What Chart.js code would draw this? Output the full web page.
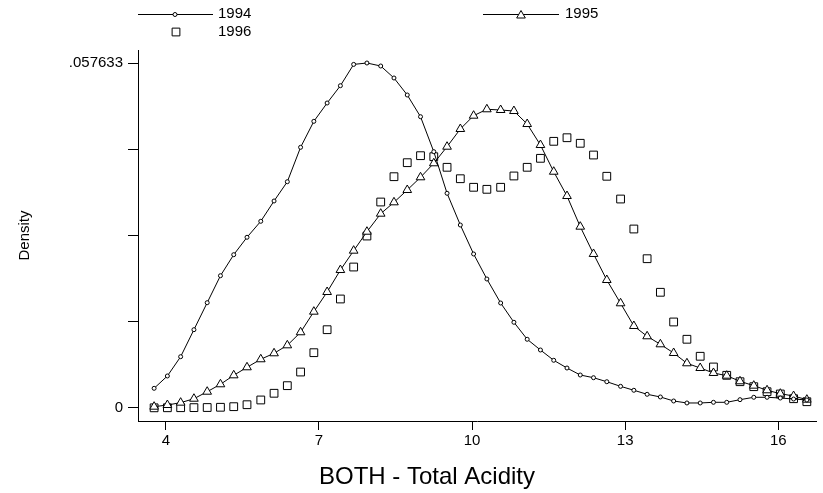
<!DOCTYPE html>
<html>
<head>
<meta charset="utf-8">
<script src="https://cdn.jsdelivr.net/npm/chart.js@4.4.0/dist/chart.umd.min.js"></script>
<style>
  html, body { margin: 0; padding: 0; background: #fff; }
  #wrap { width: 823px; height: 493px; }
</style>
</head>
<body>
<div id="wrap"><canvas id="densityChart" width="823" height="493"></canvas></div>
<script>
// Kernel density estimates of total acidity, one series per year
const acidity = [3.77, 4.03, 4.29, 4.55, 4.81, 5.07, 5.33, 5.59, 5.86, 6.12,
	6.38, 6.64, 6.90, 7.16, 7.42, 7.68, 7.94, 8.21, 8.47, 8.73,
	8.99, 9.25, 9.51, 9.77, 10.03, 10.29, 10.56, 10.82, 11.08, 11.34,
	11.60, 11.86, 12.12, 12.38, 12.64, 12.91, 13.17, 13.43, 13.69, 13.95,
	14.21, 14.47, 14.73, 14.99, 15.25, 15.52, 15.78, 16.04, 16.30, 16.56];

const dens1994 = [0.00329, 0.00535, 0.00857, 0.01308, 0.01759, 0.02210, 0.02561, 0.02852, 0.03119, 0.03458,
	0.03780, 0.04355, 0.04789, 0.05095, 0.05384, 0.05740, 0.057633, 0.05713, 0.05513, 0.05229,
	0.04866, 0.04282, 0.03587, 0.03057, 0.02573, 0.02155, 0.01754, 0.01432, 0.01148, 0.00969,
	0.00797, 0.00668, 0.00551, 0.00506, 0.00439, 0.00362, 0.00296, 0.00229, 0.00184, 0.00117,
	0.00084, 0.00084, 0.00095, 0.00095, 0.00139, 0.00179, 0.00179, 0.00167, 0.00150, 0.00134];

const dens1995 = [0.00022, 0.00050, 0.00089, 0.00155, 0.00272, 0.00396, 0.00546, 0.00680, 0.00814, 0.00914,
	0.01047, 0.01265, 0.01609, 0.01938, 0.02305, 0.02628, 0.02945, 0.03246, 0.03436, 0.03642,
	0.03854, 0.04088, 0.04365, 0.04661, 0.04883, 0.04990, 0.04978, 0.04961, 0.04744, 0.04393,
	0.03947, 0.03541, 0.03029, 0.02573, 0.02138, 0.01749, 0.01370, 0.01198, 0.01064, 0.00919,
	0.00747, 0.00668, 0.00585, 0.00540, 0.00446, 0.00373, 0.00296, 0.00239, 0.00200, 0.00139];

const dens1996 = [0.00003, 0.00004, 0.00005, 0.00006, 0.00008, 0.00012, 0.00022, 0.00055, 0.00134, 0.00246,
	0.00373, 0.00601, 0.00924, 0.01308, 0.01821, 0.02355, 0.02873, 0.03441, 0.03864, 0.04098,
	0.04215, 0.04198, 0.04021, 0.03830, 0.03687, 0.03653, 0.03687, 0.03876, 0.04021, 0.04171,
	0.04455, 0.04515, 0.04422, 0.04226, 0.03871, 0.03491, 0.02990, 0.02494, 0.01933, 0.01437,
	0.01148, 0.00864, 0.00685, 0.00546, 0.00439, 0.00356, 0.00272, 0.00234, 0.00155, 0.00105];

// Axis ticks and their labels
const xTicks = [4, 7, 10, 13, 16];
const yTicks = [0, 0.01440825, 0.0288165, 0.04322475, 0.057633];
const yTickLabels = ['0', '', '', '', '.057633'];

const FONT = "'Liberation Sans', Arial, Helvetica, sans-serif";

function toPoints(ys) {
	return ys.map(function(y, i) { return { x: acidity[i], y: y }; });
}

// Legend and x axis title, drawn by hand to keep the original layout
const extrasPlugin = {
	id: 'extras',
	afterDraw: function(chart) {
		const ctx = chart.ctx;
		const h = Chart.helpers;
		ctx.save();
		ctx.strokeStyle = '#000';
		ctx.fillStyle = '#000';
		ctx.lineWidth = 1;

		// row 1 left: 1994
		ctx.beginPath();
		ctx.moveTo(138, 14.5);
		ctx.lineTo(213, 14.5);
		ctx.stroke();
		ctx.fillStyle = '#fff';
		h.drawPoint(ctx, { pointStyle: 'circle', radius: 2, borderWidth: 1 }, 175, 14.5);
		// row 1 right: 1995
		ctx.beginPath();
		ctx.moveTo(483, 14.5);
		ctx.lineTo(559, 14.5);
		ctx.stroke();
		h.drawPoint(ctx, { pointStyle: 'triangle', radius: 5, borderWidth: 1 }, 521, 15.5);
		// row 2 left: 1996
		h.drawPoint(ctx, { pointStyle: 'rect', radius: 5.5, borderWidth: 1 }, 176, 32);

		ctx.fillStyle = '#000';
		ctx.font = '15px ' + FONT;
		ctx.textBaseline = 'middle';
		ctx.textAlign = 'left';
		ctx.fillText('1994', 218, 14);
		ctx.fillText('1995', 565, 14);
		ctx.fillText('1996', 218, 32);

		// x axis title
		ctx.font = '24px ' + FONT;
		ctx.textAlign = 'center';
		ctx.textBaseline = 'alphabetic';
		ctx.fillText('BOTH - Total Acidity', 427, 484);
		ctx.restore();
	}
};

const commonSet = {
	borderColor: '#000',
	borderWidth: 1,
	pointBorderColor: '#000',
	pointBackgroundColor: '#fff',
	pointBorderWidth: 1,
	tension: 0,
	clip: false
};

const densityChart = new Chart(document.getElementById('densityChart'), {
	type: 'line',
	data: {
		datasets: [
			Object.assign({}, commonSet, {
				label: '1994',
				data: toPoints(dens1994),
				pointStyle: 'circle',
				pointRadius: 2
			}),
			Object.assign({}, commonSet, {
				label: '1995',
				data: toPoints(dens1995),
				pointStyle: 'triangle',
				pointRadius: 5
			}),
			Object.assign({}, commonSet, {
				label: '1996',
				data: toPoints(dens1996),
				pointStyle: 'rect',
				pointRadius: 5.5,
				showLine: false
			})
		]
	},
	options: {
		responsive: false,
		animation: false,
		events: [],
		layout: { padding: { top: 50, right: 3, left: 0, bottom: 0 } },
		plugins: {
			legend: { display: false },
			tooltip: { enabled: false }
		},
		scales: {
			x: {
				type: 'linear',
				min: 3.4542,
				max: 16.749,
				afterFit: function(scale) { scale.height = 72; },
				afterBuildTicks: function(scale) {
					scale.ticks = xTicks.map(function(v) { return { value: v }; });
				},
				grid: { drawOnChartArea: false, drawTicks: true, tickLength: 9, color: '#000' },
				border: { display: true, color: '#000', width: 1 },
				ticks: {
					padding: 2,
					color: '#000',
					maxRotation: 0,
					font: { family: FONT, size: 15 },
					callback: function(v) { return String(v); }
				}
			},
			y: {
				type: 'linear',
				min: -0.002172,
				max: 0.059805,
				afterFit: function(scale) { scale.width = 138; },
				afterBuildTicks: function(scale) {
					scale.ticks = yTicks.map(function(v) { return { value: v }; });
				},
				grid: { drawOnChartArea: false, drawTicks: true, tickLength: 10, color: '#000' },
				border: { display: true, color: '#000', width: 1 },
				ticks: {
					padding: 5,
					color: '#000',
					font: { family: FONT, size: 15 },
					callback: function(v, i) { return yTickLabels[i]; }
				},
				title: {
					display: true,
					text: 'Density',
					color: '#000',
					font: { family: FONT, size: 15 },
					padding: { top: 16, bottom: 0 }
				}
			}
		}
	},
	plugins: [extrasPlugin]
});
</script>
</body>
</html>
